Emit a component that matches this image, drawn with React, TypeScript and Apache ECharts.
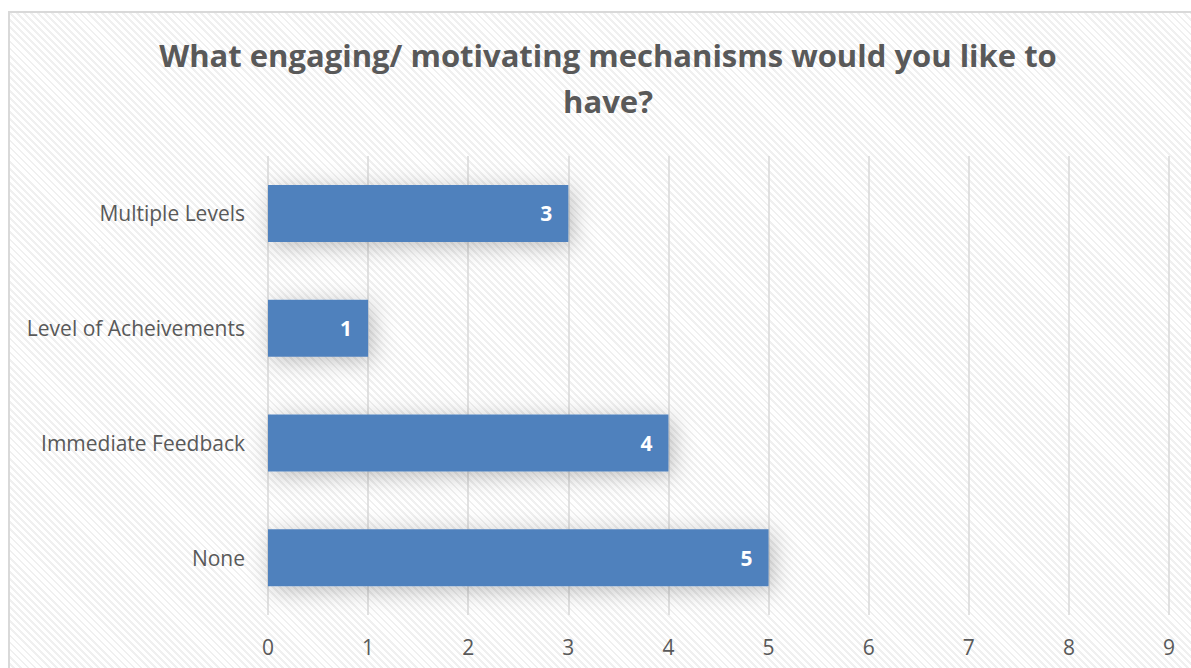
import React, { useEffect, useRef } from "react";
import * as echarts from "echarts";

const categories = ["Multiple Levels", "Level of Acheivements", "Immediate Feedback", "None"];
const values = [3, 1, 4, 5];
const titleLines = ["What engaging/ motivating mechanisms would you like to", "have?"];

const FONT = "'Open Sans', 'Noto Sans', sans-serif";

export default function App() {
  const ref = useRef<HTMLDivElement>(null);
  useEffect(() => {
    document.body.style.margin = "0";
    const chart = echarts.init(ref.current!, undefined, { renderer: "svg" });
    chart.setOption({
      animation: false,
      backgroundColor: "transparent",
      title: {
        text: titleLines.join("\n"),
        left: "center",
        top: 27,
        textStyle: {
          fontFamily: FONT,
          fontWeight: "bold",
          fontSize: 31,
          color: "#595959",
          lineHeight: 46,
        },
      },
      grid: { left: 268, right: 47, top: 156, bottom: 53, containLabel: false },
      xAxis: {
        type: "value",
        min: 0,
        max: 9,
        interval: 1,
        axisLine: { show: false },
        axisTick: { show: false },
        axisLabel: { color: "#595959", fontSize: 21, fontFamily: FONT, margin: 21 },
        splitLine: { show: true, lineStyle: { color: "#d9d9d9", width: 1.5 } },
      },
      yAxis: {
        type: "category",
        inverse: true,
        data: categories,
        axisLine: { show: false },
        axisTick: { show: false },
        axisLabel: { color: "#595959", fontSize: 21, fontFamily: FONT, margin: 23 },
        splitLine: { show: false },
      },
      series: [
        {
          type: "bar",
          data: values,
          barWidth: 57,
          itemStyle: {
            color: "#4f81bd",
            shadowColor: "rgba(0,0,0,0.25)",
            shadowBlur: 22,
            shadowOffsetX: 4,
            shadowOffsetY: 4,
          },
          label: {
            show: true,
            position: "insideRight",
            distance: 16,
            color: "#ffffff",
            fontWeight: "bold",
            fontSize: 21,
            fontFamily: FONT,
          },
        },
      ],
    });
    return () => chart.dispose();
  }, []);

  return (
    <div style={{ position: "relative", width: 1191, height: 668, overflow: "hidden", background: "#fff" }}>
      <div
        style={{
          position: "absolute",
          left: 8,
          top: 11,
          width: 1210,
          height: 720,
          border: "2px solid #d9d9d9",
          backgroundImage:
            "repeating-linear-gradient(45deg, #ffffff 0px, #ffffff 3px, #f0f0f0 3px, #f0f0f0 5px)",
        }}
      />
      <div ref={ref} style={{ position: "absolute", left: 0, top: 0, width: 1216, height: 668 }} />
    </div>
  );
}
